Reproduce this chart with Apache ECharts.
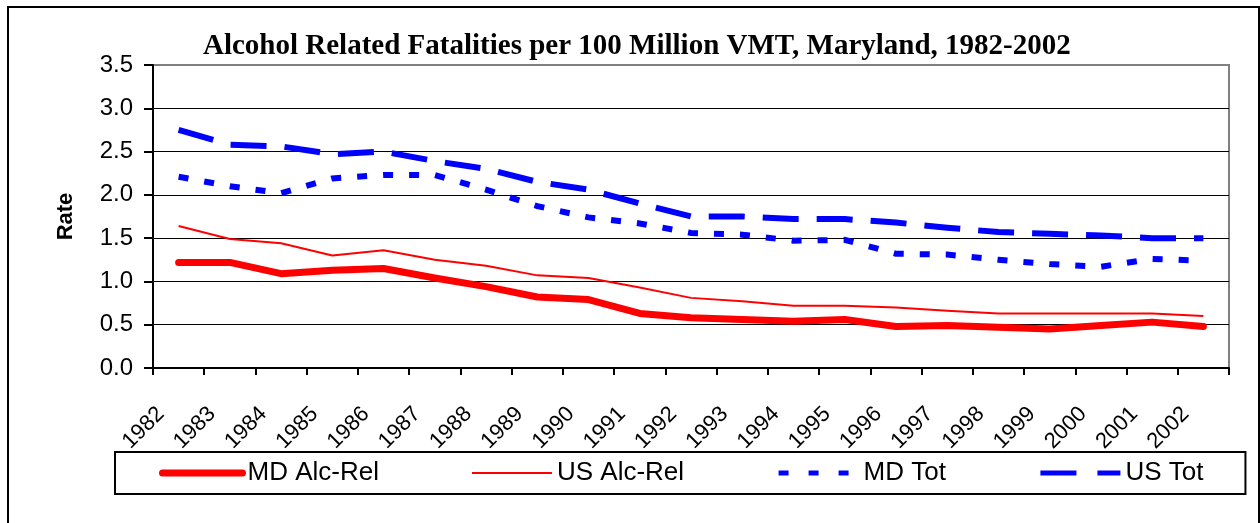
<!DOCTYPE html>
<html>
<head>
<meta charset="utf-8">
<script src="https://cdn.jsdelivr.net/npm/echarts@6/dist/echarts.min.js"></script>
<style>
  html, body { margin: 0; padding: 0; background: #fff; }
  #chart { width: 1260px; height: 523px; }
</style>
</head>
<body>
<div id="chart"></div>
<script>
// Years on the category axis
const years = ['1982','1983','1984','1985','1986','1987','1988','1989','1990','1991','1992',
               '1993','1994','1995','1996','1997','1998','1999','2000','2001','2002'];

// Fatalities per 100 million vehicle miles travelled
const mdAlcRel = [1.22,1.22,1.09,1.13,1.15,1.04,0.94,0.82,0.79,0.63,0.58,0.56,0.54,0.56,0.48,0.49,0.47,0.45,0.49,0.53,0.48];
const usAlcRel = [1.64,1.49,1.44,1.30,1.36,1.25,1.18,1.07,1.04,0.93,0.81,0.77,0.72,0.72,0.70,0.66,0.63,0.63,0.63,0.63,0.60];
const mdTot    = [2.21,2.10,2.02,2.19,2.23,2.23,2.06,1.87,1.74,1.67,1.56,1.54,1.47,1.48,1.32,1.31,1.25,1.20,1.17,1.26,1.24];
const usTot    = [2.75,2.58,2.56,2.47,2.50,2.39,2.30,2.15,2.06,1.90,1.75,1.75,1.72,1.72,1.68,1.62,1.57,1.55,1.53,1.50,1.50];

// Value axis range
const yMin = 0, yMax = 3.5, yStep = 0.5;

const chart = echarts.init(document.getElementById('chart'), null, { renderer: 'canvas' });

const sans = 'Liberation Sans, Arial, sans-serif';

// Line looks shared by each series and its legend entry
const styles = {
  'MD Alc-Rel': { color: '#ff0000', width: 7, type: 'solid', cap: 'round', join: 'round' },
  'US Alc-Rel': { color: '#ff0000', width: 2, type: 'solid', cap: 'butt', join: 'round' },
  'MD Tot':     { color: '#0000ff', width: 6, type: [10, 16], cap: 'butt', join: 'miter' },
  'US Tot':     { color: '#0000ff', width: 6, type: [36, 18], cap: 'butt', join: 'miter' }
};
const legendLook = {
  'MD Alc-Rel': { width: 7, type: 'solid', cap: 'round' },
  'US Alc-Rel': { width: 2, type: 'solid', cap: 'butt' },
  'MD Tot':     { width: 5, type: [10, 20], cap: 'butt' },
  'US Tot':     { width: 5, type: [36, 21], cap: 'butt' }
};

function lineSeries(name, values) {
  return {
    name: name,
    type: 'line',
    data: values,
    symbol: 'none',
    lineStyle: styles[name],
    itemStyle: { color: styles[name].color }
  };
}

chart.setOption({
  animation: false,
  backgroundColor: '#fff',
  title: {
    text: 'Alcohol Related Fatalities per 100 Million VMT, Maryland, 1982-2002',
    left: 203,
    top: 32,
    padding: 0,
    textStyle: {
      fontFamily: 'Liberation Serif, Times New Roman, serif',
      fontWeight: 'bold',
      fontSize: 29,
      color: '#000'
    }
  },
  graphic: [{
    type: 'rect',
    shape: { x: 8, y: 7, width: 1251, height: 530 },
    style: { fill: null, stroke: '#000', lineWidth: 2 },
    silent: true,
    z: -1
  }],
  grid: {
    left: 153, right: 31, top: 65, bottom: 155,
    show: true,
    borderColor: '#808080',
    borderWidth: 2,
    backgroundColor: '#fff'
  },
  legend: {
    left: 115,
    top: 452,
    padding: [8, 42, 8, 44],
    borderColor: '#000',
    borderWidth: 2,
    itemGap: 92,
    itemWidth: 80,
    itemHeight: 14,
    itemStyle: { opacity: 0 },
    textStyle: { fontFamily: sans, fontSize: 26, color: '#000' },
    data: Object.keys(legendLook).map(n => ({
      name: n,
      itemStyle: { opacity: 0 },
      lineStyle: Object.assign({ color: styles[n].color, opacity: 1 }, legendLook[n])
    }))
  },
  xAxis: {
    type: 'category',
    data: years,
    boundaryGap: true,
    axisLine: { lineStyle: { color: '#000', width: 2 } },
    axisTick: { show: true, interval: 0, length: 7, lineStyle: { color: '#000', width: 2 } },
    axisLabel: {
      interval: 0,
      rotate: 45,
      margin: 25,
      padding: [0, 25, 0, 0],
      fontFamily: sans,
      fontSize: 22,
      color: '#000'
    },
    splitLine: { show: false }
  },
  yAxis: {
    type: 'value',
    min: yMin,
    max: yMax,
    interval: yStep,
    name: 'Rate',
    nameLocation: 'middle',
    nameGap: 76,
    nameTextStyle: { fontFamily: sans, fontWeight: 'bold', fontSize: 22, color: '#000' },
    axisLine: { show: true, lineStyle: { color: '#000', width: 2 } },
    axisTick: { show: true, length: 9, lineStyle: { color: '#000', width: 2 } },
    axisLabel: {
      margin: 20,
      fontFamily: sans,
      fontSize: 24,
      color: '#000',
      formatter: v => v.toFixed(1)
    },
    splitLine: { show: true, showMaxLine: false, lineStyle: { color: '#000', width: 1 } }
  },
  series: [
    lineSeries('MD Alc-Rel', mdAlcRel),
    lineSeries('US Alc-Rel', usAlcRel),
    lineSeries('MD Tot', mdTot),
    lineSeries('US Tot', usTot)
  ]
});
</script>
</body>
</html>
